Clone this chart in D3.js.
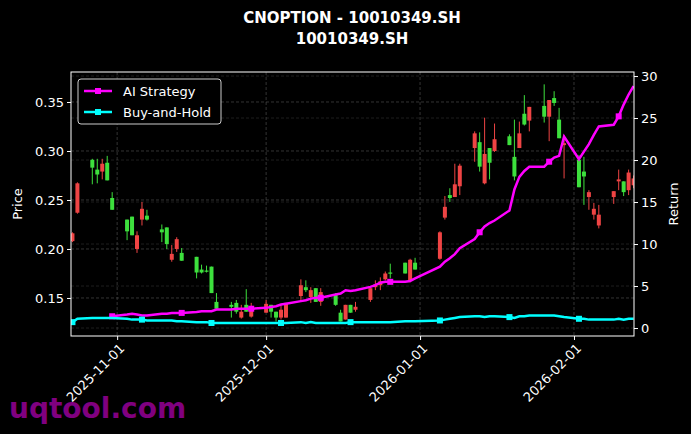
<!DOCTYPE html>
<html><head><meta charset="utf-8">
<script src="https://cdn.jsdelivr.net/npm/d3@7"></script>
<style>body{margin:0;background:#000}svg{display:block}text{font-family:"DejaVu Sans",sans-serif}</style>
</head><body><svg id="c" width="691" height="434"></svg>
<script>
const dates=["2025-10-23","2025-10-24","2025-10-27","2025-10-28","2025-10-29","2025-10-30","2025-10-31",
"2025-11-03","2025-11-04","2025-11-05","2025-11-06","2025-11-07","2025-11-10","2025-11-11","2025-11-12","2025-11-13","2025-11-14",
"2025-11-17","2025-11-18","2025-11-19","2025-11-20","2025-11-21","2025-11-24","2025-11-25","2025-11-26","2025-11-27","2025-11-28",
"2025-12-01","2025-12-02","2025-12-03","2025-12-04","2025-12-05","2025-12-08","2025-12-09","2025-12-10","2025-12-11","2025-12-12",
"2025-12-15","2025-12-16","2025-12-17","2025-12-18","2025-12-19","2025-12-22","2025-12-23","2025-12-24","2025-12-25","2025-12-26",
"2025-12-29","2025-12-30","2025-12-31","2026-01-05","2026-01-06","2026-01-07","2026-01-08","2026-01-09","2026-01-12","2026-01-13",
"2026-01-14","2026-01-15","2026-01-16","2026-01-19","2026-01-20","2026-01-21","2026-01-22","2026-01-23","2026-01-26","2026-01-27",
"2026-01-28","2026-01-29","2026-01-30","2026-02-02","2026-02-03","2026-02-04","2026-02-05","2026-02-06","2026-02-09","2026-02-10",
"2026-02-11","2026-02-12","2026-02-13"];
const open=[.208,.237,.291,.281,.279,.288,.252, .230,.233,.200,.230,.234,.220,.222,.189,.200,.196,
.192,.179,.178,.182,.146,.143,.145,.130,.143,.131, .135,.143,.136,.130,.130,.152,.161,.151,.160,.146,
.153,.135,.128,.143,.138,.148,.161,.163,.169,.176, .186,.168,.186,.190,.232,.255,.253,.264,.303,.309,
.267,.303,.300,.315,.294,.303,.338,.331,.346,.335, .354,.332,.306,.291,.279,.253,.235,.224,.253,.269,
.269,.260,.265];
const close=[.216,.267,.283,.276,.287,.270,.240, .218,.214,.214,.241,.230,.217,.205,.195,.210,.188,
.176,.176,.177,.155,.139,.141,.136,.136,.136,.141, .144,.136,.130,.138,.145,.163,.158,.158,.146,.156,
.143,.126,.143,.135,.141,.160,.164,.167,.175,.175, .175,.189,.179,.217,.243,.252,.266,.285,.318,.284,
.297,.288,.312,.306,.274,.318,.327,.345,.335,.352, .349,.313,.308,.263,.274,.258,.241,.235,.259,.271,
.258,.278,.272];
const high=[.217,.268,.292,.292,.292,.295,.258, .230,.233,.218,.248,.240,.225,.222,.204,.212,.201,
.192,.184,.183,.182,.155,.146,.148,.143,.159,.145, .148,.143,.136,.143,.145,.169,.168,.161,.160,.160,
.155,.138,.143,.143,.146,.160,.168,.171,.177,.185, .186,.190,.191,.218,.254,.262,.287,.287,.320,.319,
.334,.303,.328,.317,.332,.330,.357,.345,.368,.352, .361,.344,.316,.296,.294,.260,.247,.245,.259,.281,
.269,.281,.275];
const low=[.207,.236,.266,.267,.271,.270,.240, .209,.214,.196,.224,.229,.207,.200,.187,.197,.188,
.170,.175,.176,.155,.139,.130,.134,.129,.136,.130, .135,.130,.126,.128,.130,.148,.156,.145,.146,.142,
.142,.126,.128,.135,.136,.146,.158,.158,.168,.170, .175,.166,.179,.189,.230,.248,.253,.255,.289,.279,
.266,.271,.299,.306,.270,.303,.326,.320,.329,.310, .346,.313,.272,.263,.245,.240,.230,.221,.246,.260,
.254,.255,.262];
const strategy=[null,null,null,null,null,null,1.4, 1.6,1.7,1.6,1.5,1.5,1.7,1.7,1.8,1.8,1.8,
1.9,2.0,2.0,2.0,2.2,2.2,2.3,2.3,2.3,2.3, 2.4,2.5,2.6,2.8,2.9,3.2,3.3,3.5,3.6,3.6,
4.0,4.1,4.5,4.4,4.5,4.9,5.1,5.4,5.5,5.5, 5.5,5.6,5.9,7.3,7.9,8.3,8.8,9.5,10.6,11.4,
12.1,12.5,12.8,14.0,16.5,18.0,18.7,19.2,19.2,19.8, 20.3,20.5,22.8,20.1,21.0,21.9,23.0,24.0,24.2,25.2,
26.6,27.8,28.8];
const buyHold=[0.7,1.1,1.2,1.2,1.2,1.2,1.2, 1.1,1.0,1.0,1.0,0.9,0.9,0.9,0.9,0.8,0.8,
0.7,0.7,0.7,0.6,0.6,0.6,0.6,0.6,0.6,0.6, 0.6,0.6,0.6,0.6,0.6,0.7,0.6,0.7,0.6,0.6,
0.6,0.6,0.6,0.7,0.7,0.7,0.7,0.7,0.7,0.7, 0.8,0.8,0.8,0.9,1.0,1.1,1.2,1.3,1.4,1.4,
1.3,1.4,1.4,1.3,1.2,1.4,1.4,1.5,1.5,1.5, 1.5,1.4,1.3,1.1,1.1,1.0,1.0,1.0,1.0,1.1,
1.0,1.1,1.1];
const priceTicks=[0.15,0.20,0.25,0.30,0.35];
const returnTicks=[0,5,10,15,20,25,30];
const dateTicks=["2025-11-01","2025-12-01","2026-01-01","2026-02-01"];

const P=d3.timeParse("%Y-%m-%d");
const svg=d3.select("#c");
const L=71,R=634,T=72,B=336;
const x=d3.scaleTime().domain([new Date(2025,9,22,17),new Date(2026,1,13,2)]).range([L,R]);
const y=d3.scaleLinear().domain([0.1112,0.3806]).range([B,T]);
const y2=d3.scaleLinear().domain([-0.95,30.48]).range([B,T]);
const data=dates.map((d,i)=>({d:P(d),o:open[i],c:close[i],h:high[i],l:low[i],s:strategy[i],b:buyHold[i],i}));

svg.append("defs").append("clipPath").attr("id","cp").append("rect").attr("x",L).attr("y",T).attr("width",R-L).attr("height",B-T);
const grid=svg.append("g").attr("stroke","#555").attr("stroke-dasharray","3,2").attr("stroke-width",0.6);
priceTicks.forEach(t=>grid.append("line").attr("x1",L).attr("x2",R).attr("y1",y(t)).attr("y2",y(t)));
returnTicks.forEach(t=>grid.append("line").attr("x1",L).attr("x2",R).attr("y1",y2(t)).attr("y2",y2(t)).attr("stroke","#333"));
dateTicks.forEach(t=>grid.append("line").attr("y1",T).attr("y2",B).attr("x1",x(P(t))).attr("x2",x(P(t))));

const g=svg.append("g").attr("clip-path","url(#cp)");
const w=4;
data.forEach(d=>{
  const col=d.c>=d.o?"#ef4444":"#3de03d";
  g.append("line").attr("x1",x(d.d)).attr("x2",x(d.d)).attr("y1",y(d.h)).attr("y2",y(d.l)).attr("stroke",col).attr("stroke-width",1);
  const t=y(Math.max(d.o,d.c)),bt=y(Math.min(d.o,d.c));
  g.append("rect").attr("x",x(d.d)-w/2).attr("width",w).attr("y",t).attr("height",Math.max(1.2,bt-t)).attr("fill",col);
});
function series(key,col){
  const pts=data.filter(d=>d[key]!=null);
  g.append("path").datum(pts).attr("fill","none").attr("stroke",col).attr("stroke-width",2.5)
   .attr("d",d3.line().x(d=>x(d.d)).y(d=>y2(d[key])));
  g.selectAll(null).data(pts.filter((d,i)=>i%10==0)).enter().append("rect")
   .attr("x",d=>x(d.d)-3).attr("y",d=>y2(d[key])-3).attr("width",6).attr("height",6).attr("fill",col);
}
series("s","#ff00ff");
series("b","#00ffff");

svg.append("rect").attr("x",L).attr("y",T).attr("width",R-L).attr("height",B-T).attr("fill","none").attr("stroke","#fff").attr("stroke-width",1);
const ax=svg.append("g").attr("transform",`translate(0,${B})`).call(d3.axisBottom(x).tickValues(dateTicks.map(P)).tickFormat(d3.timeFormat("%Y-%m-%d")).tickSize(4));
ax.selectAll("text").attr("transform","rotate(-45)").attr("text-anchor","end").attr("dx","-0.3em").attr("dy","0.6em");
const ay=svg.append("g").attr("transform",`translate(${L},0)`).call(d3.axisLeft(y).tickValues(priceTicks).tickFormat(d3.format(".2f")).tickSize(4));
const ay2=svg.append("g").attr("transform",`translate(${R},0)`).call(d3.axisRight(y2).tickValues(returnTicks).tickSize(4));
[ax,ay,ay2].forEach(a=>{a.select(".domain").remove();a.selectAll("line").attr("stroke","#fff");a.selectAll("text").attr("fill","#fff").attr("font-size",13).attr("font-family","DejaVu Sans");});

svg.append("text").attr("x",352).attr("y",23).attr("text-anchor","middle").attr("fill","#fff").attr("font-weight","bold").attr("font-size",15).text("CNOPTION - 10010349.SH");
svg.append("text").attr("x",352).attr("y",44).attr("text-anchor","middle").attr("fill","#fff").attr("font-weight","bold").attr("font-size",15).text("10010349.SH");
svg.append("text").attr("transform","translate(22,204) rotate(-90)").attr("text-anchor","middle").attr("fill","#fff").attr("font-size",13).text("Price");
svg.append("text").attr("transform","translate(678,204) rotate(-90)").attr("text-anchor","middle").attr("fill","#fff").attr("font-size",13).text("Return");

const lg=svg.append("g");
lg.append("rect").attr("x",78).attr("y",79).attr("width",143).attr("height",45).attr("rx",3).attr("fill","#000").attr("stroke","#ccc");
[["AI Strategy","#ff00ff",91],["Buy-and-Hold","#00ffff",112]].forEach(([t,c,yy])=>{
  lg.append("line").attr("x1",84).attr("x2",112).attr("y1",yy).attr("y2",yy).attr("stroke",c).attr("stroke-width",2.5);
  lg.append("rect").attr("x",95).attr("y",yy-3).attr("width",6).attr("height",6).attr("fill",c);
  lg.append("text").attr("x",123).attr("y",yy+4.5).attr("fill","#fff").attr("font-size",13).text(t);
});
svg.append("text").attr("x",9).attr("y",418).attr("fill","#800080").attr("font-weight","bold").attr("font-size",28).text("uqtool.com");
</script></body></html>
